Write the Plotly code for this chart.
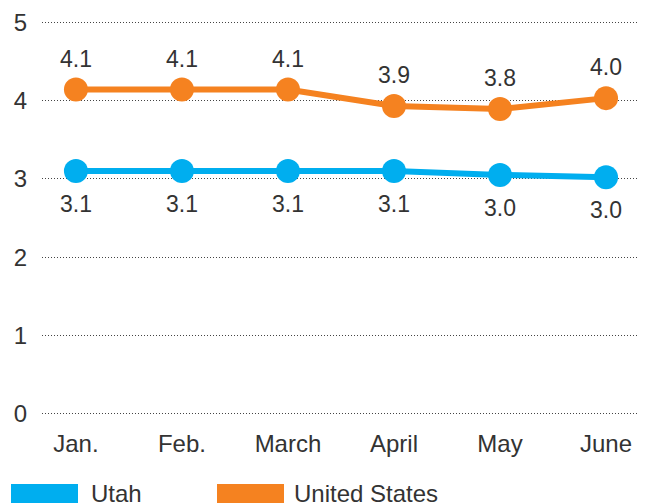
import plotly.graph_objects as go

months = ["Jan.", "Feb.", "March", "April", "May", "June"]
utah = [3.10, 3.10, 3.10, 3.10, 3.05, 3.02]
us = [4.14, 4.14, 4.14, 3.93, 3.89, 4.03]
utah_labels = ["3.1", "3.1", "3.1", "3.1", "3.0", "3.0"]
us_labels = ["4.1", "4.1", "4.1", "3.9", "3.8", "4.0"]
y_ticks = [0, 1, 2, 3, 4, 5]

BLUE = "#00AEEF"
ORANGE = "#F58220"
TEXT = "#333333"
FONT = "Liberation Sans, Arial, sans-serif"

# page body has an 8px default margin, so the figure is laid out in
# coordinates offset by 8px from the window
OFF = 8
FIG_W, FIG_H = 646 - OFF, 503 - OFF
M_L, M_R, M_T, M_B = 34, 0, 11, 86
plot_w = FIG_W - M_L - M_R
plot_h = FIG_H - M_T - M_B


def px_to_paper_x(px):
    return (px - OFF - M_L) / plot_w


def px_to_paper_y(py):
    return (FIG_H - M_B - (py - OFF)) / plot_h


fig = go.Figure()
fig.add_trace(go.Scatter(x=months, y=utah, mode="lines+markers", name="Utah",
                         line=dict(color=BLUE, width=6),
                         marker=dict(color=BLUE, size=24), cliponaxis=False,
                         hoverinfo="skip"))
fig.add_trace(go.Scatter(x=months, y=us, mode="lines+markers", name="United States",
                         line=dict(color=ORANGE, width=6),
                         marker=dict(color=ORANGE, size=24), cliponaxis=False,
                         hoverinfo="skip"))

annotations = []
for m, v, t in zip(months, us, us_labels):
    annotations.append(dict(x=m, y=v, xref="x", yref="y", text=t, showarrow=False,
                            yshift=31, font=dict(family=FONT, size=23, color=TEXT)))
for m, v, t in zip(months, utah, utah_labels):
    annotations.append(dict(x=m, y=v, xref="x", yref="y", text=t, showarrow=False,
                            yshift=-33, font=dict(family=FONT, size=23, color=TEXT)))

shapes = [
    dict(type="rect", xref="paper", yref="paper",
         x0=px_to_paper_x(11), x1=px_to_paper_x(78),
         y0=px_to_paper_y(506), y1=px_to_paper_y(484),
         fillcolor=BLUE, line=dict(width=0)),
    dict(type="rect", xref="paper", yref="paper",
         x0=px_to_paper_x(217), x1=px_to_paper_x(284),
         y0=px_to_paper_y(506), y1=px_to_paper_y(484),
         fillcolor=ORANGE, line=dict(width=0)),
]
annotations.append(dict(x=px_to_paper_x(89), y=px_to_paper_y(493), xref="paper", yref="paper",
                        text="Utah", showarrow=False, xanchor="left", yanchor="middle",
                        font=dict(family=FONT, size=24, color=TEXT)))
annotations.append(dict(x=px_to_paper_x(292), y=px_to_paper_y(493), xref="paper", yref="paper",
                        text="United States", showarrow=False, xanchor="left", yanchor="middle",
                        font=dict(family=FONT, size=24, color=TEXT)))

fig.update_layout(
    width=FIG_W, height=FIG_H,
    margin=dict(l=M_L, r=M_R, t=M_T, b=M_B),
    paper_bgcolor="white", plot_bgcolor="white",
    showlegend=False,
    annotations=annotations,
    shapes=shapes,
    xaxis=dict(type="category", range=[-0.32, 5.377], showgrid=False, zeroline=False,
               showline=False, ticks="outside", ticklen=5, tickcolor="rgba(0,0,0,0)",
               tickfont=dict(family=FONT, size=24, color=TEXT)),
    yaxis=dict(range=[-0.04, 5.04], tickvals=y_ticks, showgrid=True, gridcolor="#444444",
               griddash="1px,2px", gridwidth=1, zeroline=False, showline=False,
               ticks="outside", ticklen=9, tickcolor="rgba(0,0,0,0)",
               tickfont=dict(family=FONT, size=24, color=TEXT)),
)

fig.write_html("out.html")
